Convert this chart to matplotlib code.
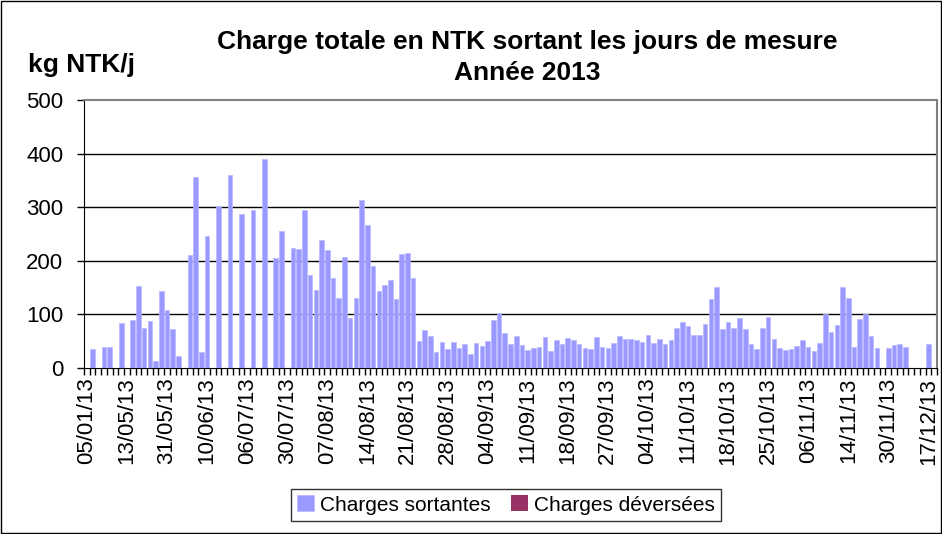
import matplotlib
matplotlib.use("Agg")
import matplotlib.pyplot as plt
from matplotlib.patches import Rectangle
import numpy as np

plt.rcParams['font.family'] = ['Liberation Sans', 'DejaVu Sans']

# labels shown on the axis (one every 7 days of measure)
date_labels = ["05/01/13", "13/05/13", "31/05/13", "10/06/13", "06/07/13", "30/07/13",
               "07/08/13", "14/08/13", "21/08/13", "28/08/13", "04/09/13", "11/09/13",
               "18/09/13", "27/09/13", "04/10/13", "11/10/13", "18/10/13", "25/10/13",
               "06/11/13", "14/11/13", "30/11/13", "17/12/13"]

# charges sortantes, kg NTK/j (nan = no measure)
n = np.nan
sortantes = [n, 35, n, 39, 39, n, 84, n, 89, 153,
             75, 87, 13, 143, 108, 72, 22, n, 210, 356,
             29, 246, n, 302, n, 360, n, 288, n, 294,
             n, 389, n, 205, 255, n, 224, 222, 295, 174,
             146, 239, 220, 167, 131, 207, 94, 131, 314, 266,
             191, 144, 154, 164, 128, 212, 214, 168, 50, 71,
             59, 30, 48, 35, 48, 37, 45, 27, 47, 41,
             51, 89, 103, 65, 44, 60, 42, 34, 37, 40,
             57, 32, 53, 45, 56, 52, 44, 37, 35, 58,
             39, 37, 46, 59, 54, 55, 52, 49, 61, 47,
             54, 45, 53, 74, 86, 79, 61, 62, 82, 128,
             151, 73, 85, 75, 93, 73, 45, 35, 75, 95,
             55, 38, 34, 36, 41, 52, 39, 32, 46, 101,
             67, 80, 151, 131, 40, 91, 101, 59, 38, n,
             38, 42, 45, 40, n, n, n, 45, n]
# charges déversées: none over the year
deversees = [0] * len(sortantes)

x = np.arange(len(sortantes))

fig = plt.figure(figsize=(9.42, 5.34), dpi=100)
ax = fig.add_axes([84 / 942, 1 - 368 / 534, 853 / 942, 268 / 534])

ax.bar(x, np.nan_to_num(sortantes), width=0.8, color="#9999FF",
       edgecolor="#B8B8FF", linewidth=0.5, label="Charges sortantes", zorder=3)
ax.bar(x + 0.3, deversees, width=0.3, color="#993366", label="Charges déversées", zorder=3)

ax.set_xlim(-0.5, len(sortantes) - 0.5)
ax.set_ylim(0, 500)
ax.set_yticks(range(0, 501, 100))
for v in range(100, 500, 100):
    ax.axhline(v, color="black", lw=1, zorder=1)

# category boundaries as tick marks, labels every 7 categories
ax.set_xticks(np.arange(-0.5, len(sortantes), 1))
ax.set_xticklabels([])
ax.set_xticks(np.arange(0, len(sortantes), 7), minor=True)
ax.set_xticklabels(date_labels, minor=True, rotation=90, fontsize=16)
ax.tick_params(axis="x", which="major", length=5, width=1, direction="out")
ax.tick_params(axis="x", which="minor", length=0, pad=7)
ax.tick_params(axis="y", length=5, width=1, labelsize=16, pad=10)

ax.spines["left"].set_color("black")
ax.spines["bottom"].set_color("black")
ax.spines["top"].set_color("#808080")
ax.spines["right"].set_color("#808080")
ax.spines["top"].set_linewidth(1.5)
ax.spines["right"].set_linewidth(1.5)

fig.text(527 / 942, 1 - 42 / 534, "Charge totale en NTK sortant les jours de mesure",
         ha="center", va="center", fontsize=19, fontweight="bold")
fig.text(527 / 942, 1 - 73 / 534, "Année 2013",
         ha="center", va="center", fontsize=19, fontweight="bold")
fig.text(28 / 942, 1 - 65 / 534, "kg NTK/j", ha="left", va="center",
         fontsize=19, fontweight="bold")

leg = fig.legend(loc="center", bbox_to_anchor=(506 / 942, 1 - 505 / 534), ncol=2,
                 fontsize=15, frameon=True, fancybox=False, edgecolor="black",
                 handlelength=0.8, handleheight=0.8, handletextpad=0.3,
                 columnspacing=1.0, borderpad=0.3)
leg.get_frame().set_linewidth(1)

fig.patches.append(Rectangle((0.001, 0.001), 0.998, 0.998, transform=fig.transFigure,
                             fill=False, edgecolor="black", lw=1))

fig.savefig("out.png", dpi=100)
